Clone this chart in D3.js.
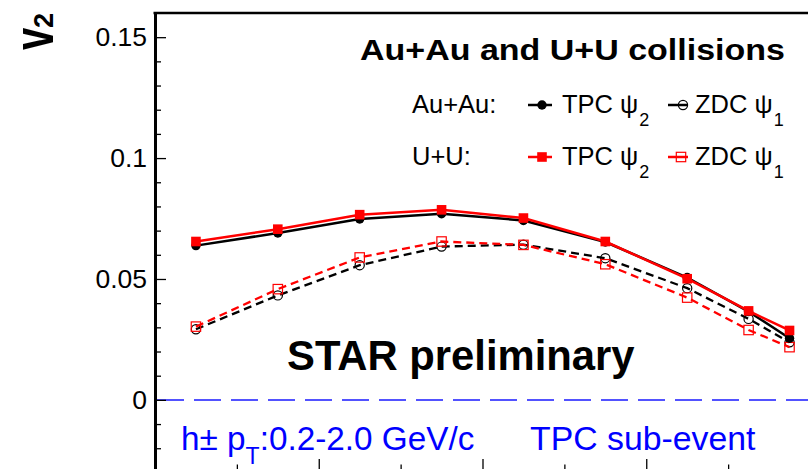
<!DOCTYPE html>
<html>
<head>
<meta charset="utf-8">
<script src="https://cdn.jsdelivr.net/npm/d3@7"></script>
<style>
  html, body { margin: 0; padding: 0; background: #fff; }
  svg { display: block; }
  text { font-family: "Liberation Sans", Arial, Helvetica, sans-serif; }
</style>
</head>
<body>
<div id="chart"></div>
<script>
// Centrality bins (percent), plotted at bin centres, most central on the right
const centralityBins = ["70-80%", "60-70%", "50-60%", "40-50%", "30-40%", "20-30%", "10-20%", "5-10%", "0-5%"];
const centralityCenters = [75, 65, 55, 45, 35, 25, 15, 7.5, 2.5];

// v2 measured with respect to the TPC psi_2 plane and the ZDC psi_1 plane
const auauTPC = [0.0638, 0.0690, 0.0748, 0.0770, 0.0742, 0.0653, 0.0506, 0.0365, 0.0255];
const uuTPC   = [0.0655, 0.0706, 0.0766, 0.0786, 0.0752, 0.0655, 0.0501, 0.0368, 0.0287];
const auauZDC = [0.0292, 0.0432, 0.0557, 0.0634, 0.0642, 0.0586, 0.0462, 0.0335, 0.0238];
const uuZDC   = [0.0303, 0.0458, 0.0589, 0.0655, 0.0641, 0.0561, 0.0423, 0.0289, 0.0218];

// Axis ticks
const yMajorTicks = [0, 0.05, 0.1, 0.15];
const yTickLabels = ["0", "0.05", "0.1", "0.15"];
const yMinorTicks = [-0.02, -0.01, 0.01, 0.02, 0.03, 0.04, 0.06, 0.07, 0.08, 0.09, 0.11, 0.12, 0.13, 0.14];
const xMajorTicks = [20, 40, 60];
const xMinorTicks = [10, 30, 50, 70];

const W = 808, H = 469;
const FONT = '"Liberation Sans", Arial, Helvetica, sans-serif';

const svg = d3.select("#chart").append("svg")
  .attr("width", W).attr("height", H);

const x = d3.scaleLinear().domain([80, 0]).range([155, 810]);
const y = d3.scaleLinear().domain([-0.029, 0.16]).range([470, 13]);

// Zero reference line
svg.append("line")
  .attr("x1", x(80) + 2).attr("x2", W)
  .attr("y1", y(0)).attr("y2", y(0))
  .attr("stroke", "#1a1aff").attr("stroke-width", 1.5)
  .attr("stroke-dasharray", "27,10");

// Series
const series = [
  { name: "auauZDC", values: auauZDC, color: "#000", dash: "8,5", marker: "openCircle" },
  { name: "uuZDC",   values: uuZDC,   color: "#ff0000", dash: "8,5", marker: "openSquare" },
  { name: "auauTPC", values: auauTPC, color: "#000", dash: null, marker: "circle" },
  { name: "uuTPC",   values: uuTPC,   color: "#ff0000", dash: null, marker: "square" }
];

const line = d3.line()
  .x((d, i) => x(centralityCenters[i]))
  .y(d => y(d));

function drawMarker(g, type, cx, cy, color) {
  if (type === "circle") {
    g.append("circle").attr("cx", cx).attr("cy", cy).attr("r", 4.7).attr("fill", color);
  } else if (type === "square") {
    g.append("rect").attr("x", cx - 4.8).attr("y", cy - 4.8).attr("width", 9.6).attr("height", 9.6).attr("fill", color);
  } else if (type === "openCircle") {
    g.append("circle").attr("cx", cx).attr("cy", cy).attr("r", 4.6)
      .attr("fill", "none").attr("stroke", color).attr("stroke-width", 1.2);
  } else if (type === "openSquare") {
    g.append("rect").attr("x", cx - 4.7).attr("y", cy - 4.7).attr("width", 9.4).attr("height", 9.4)
      .attr("fill", "none").attr("stroke", color).attr("stroke-width", 1.2);
  }
}

series.forEach(s => {
  const g = svg.append("g").attr("class", s.name);
  g.append("path")
    .attr("d", line(s.values))
    .attr("fill", "none")
    .attr("stroke", s.color)
    .attr("stroke-width", s.dash ? 2.3 : 2.5)
    .attr("stroke-dasharray", s.dash);
  s.values.forEach((v, i) => drawMarker(g, s.marker, x(centralityCenters[i]), y(v), s.color));
});

// Left axis: ticks point into the frame, labels to the left
const yAxis = d3.axisLeft(y)
  .tickValues(yMajorTicks)
  .tickFormat((d, i) => yTickLabels[i])
  .tickSizeInner(-11).tickSizeOuter(0).tickPadding(8);
const gy = svg.append("g").attr("transform", `translate(${x(80)},0)`).call(yAxis);
gy.select(".domain").attr("stroke", "#000").attr("stroke-width", 3);
gy.selectAll(".tick line").attr("stroke", "#000").attr("stroke-width", 1.3);
gy.selectAll(".tick text").attr("font-size", 26.5).attr("font-family", FONT).attr("fill", "#000");

const yMinor = d3.axisLeft(y).tickValues(yMinorTicks).tickFormat("")
  .tickSizeInner(-6).tickSizeOuter(0);
const gym = svg.append("g").attr("transform", `translate(${x(80)},0)`).call(yMinor);
gym.select(".domain").remove();
gym.selectAll(".tick line").attr("stroke", "#000").attr("stroke-width", 1.3);

// Bottom axis (ticks only, labels fall below the visible area)
const xAxis = d3.axisBottom(x).tickValues(xMajorTicks).tickFormat("")
  .tickSizeInner(-11).tickSizeOuter(0);
const gx = svg.append("g").attr("transform", `translate(0,${y.range()[0]})`).call(xAxis);
gx.select(".domain").attr("stroke", "#000").attr("stroke-width", 3);
gx.selectAll(".tick line").attr("stroke", "#000").attr("stroke-width", 1.3);

const xMinor = d3.axisBottom(x).tickValues(xMinorTicks).tickFormat("")
  .tickSizeInner(-5.5).tickSizeOuter(0);
const gxm = svg.append("g").attr("transform", `translate(0,${y.range()[0]})`).call(xMinor);
gxm.select(".domain").remove();
gxm.selectAll(".tick line").attr("stroke", "#000").attr("stroke-width", 1.3);

// Top frame line
svg.append("line")
  .attr("x1", x(80) - 1.5).attr("x2", W)
  .attr("y1", y(0.16)).attr("y2", y(0.16))
  .attr("stroke", "#000").attr("stroke-width", 2.5);

// Y-axis title v_2
svg.append("text")
  .attr("transform", "translate(53,50) rotate(-90) scale(1,1.45)")
  .attr("font-size", 40).attr("font-weight", "bold").attr("font-family", FONT)
  .text("v");
svg.append("text")
  .attr("transform", "translate(53,28) rotate(-90)")
  .attr("font-size", 27).attr("font-weight", "bold").attr("font-family", FONT)
  .text("2");

// Title
svg.append("text")
  .attr("x", 360).attr("y", 60)
  .attr("font-size", 29).attr("font-weight", "bold").attr("font-family", FONT)
  .attr("textLength", 425).attr("lengthAdjust", "spacingAndGlyphs")
  .text("Au+Au and U+U collisions");

// Legend
const legendRows = [
  { label: "Au+Au:", y: 113, items: [
    { text: "TPC ψ", sub: "2", color: "#000", marker: "circle", lx: 528, lw: 24, mx: 542, tx: 562 },
    { text: "ZDC ψ", sub: "1", color: "#000", marker: "openCircle", lx: 668, lw: 19, mx: 683, tx: 695 }
  ]},
  { label: "U+U:", y: 165, items: [
    { text: "TPC ψ", sub: "2", color: "#ff0000", marker: "square", lx: 528, lw: 24, mx: 542, tx: 562 },
    { text: "ZDC ψ", sub: "1", color: "#ff0000", marker: "openSquare", lx: 668, lw: 20, mx: 681, tx: 695 }
  ]}
];

legendRows.forEach(row => {
  svg.append("text")
    .attr("x", 412).attr("y", row.y)
    .attr("font-size", 25.5).attr("font-family", FONT)
    .text(row.label);
  row.items.forEach(it => {
    const my = row.y - 8;
    const g = svg.append("g");
    g.append("line")
      .attr("x1", it.lx).attr("x2", it.lx + it.lw)
      .attr("y1", my).attr("y2", my)
      .attr("stroke", it.color).attr("stroke-width", 2.5);
    drawMarker(g, it.marker, it.mx, my, it.color);
    const t = svg.append("text")
      .attr("x", it.tx).attr("y", row.y)
      .attr("font-size", 25.5).attr("font-family", FONT);
    t.append("tspan").text(it.text);
    t.append("tspan").attr("dy", 13).attr("dx", 1).attr("font-size", 18).text(it.sub);
  });
});

// STAR preliminary
svg.append("text")
  .attr("x", 287).attr("y", 370)
  .attr("font-size", 41.8).attr("font-weight", "bold").attr("font-family", FONT)
  .text("STAR preliminary");

// Kinematic selection and event-plane method
const kin = svg.append("text")
  .attr("x", 181).attr("y", 450)
  .attr("font-size", 33.3).attr("font-family", FONT).attr("fill", "#0000ff");
kin.append("tspan").text("h± p");
kin.append("tspan").attr("dy", 14).attr("font-size", 23).text("T");
kin.append("tspan").attr("dy", -14).text(":0.2-2.0 GeV/c");

svg.append("text")
  .attr("x", 530).attr("y", 450)
  .attr("font-size", 33.8).attr("font-family", FONT).attr("fill", "#0000ff")
  .text("TPC sub-event");
</script>
</body>
</html>
